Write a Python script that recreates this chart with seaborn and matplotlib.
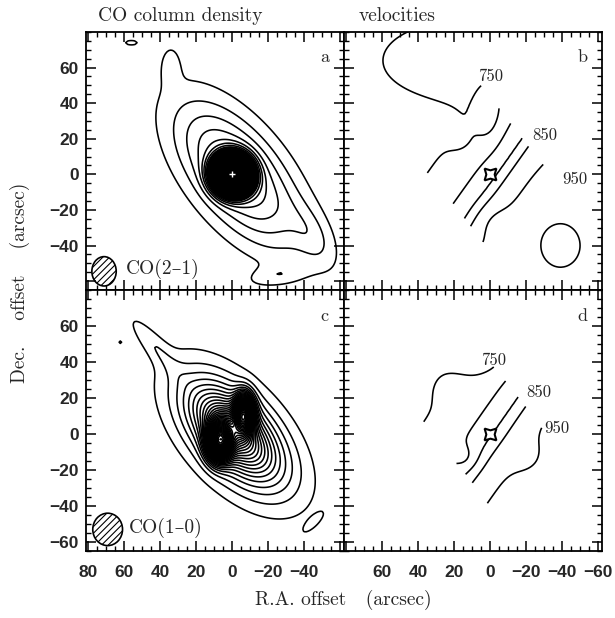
import numpy as np
import matplotlib.pyplot as plt
import seaborn as sns
from matplotlib.patches import Ellipse
from matplotlib.ticker import MultipleLocator
from matplotlib.font_manager import FontProperties

sns.set_theme(style="white")
plt.rcParams['font.family'] = ['cmr10', 'DejaVu Serif']
plt.rcParams['hatch.linewidth'] = 0.8

# map grid, arcsec
ra = np.arange(-66, 84, 1.0)
dec = np.arange(-68, 82, 1.0)
X, Y = np.meshgrid(ra, dec)

# CO(2-1) column density as elliptical gaussians
# (centre arcsec, amplitude in contour steps, sigmas arcsec, PA deg E of N)
co21_x0 = [-3, 0, 34, 56, -45, -24]
co21_y0 = [0, 0, 62, 74, -35, -57]
co21_amp = [6.0, 60.0, 1.2, 1.1, 1.5, 1.3]
co21_smaj = [33, 6.3, 8, 5, 14, 12]
co21_smin = [16, 6.0, 4, 2, 7, 4]
co21_pa = [38, 20, 0, 90, 30, 100]
co21_levels = np.concatenate([np.arange(1, 8), np.arange(8, 66, 0.5)])

# CO(1-0) column density
co10_x0 = [-1.5, -1, 7, -6.5, 44, 62, -45]
co10_y0 = [0, 1, -4, 11, 50, 51, -49]
co10_amp = [8.0, 8.0, 25.0, 22.0, 1.5, 1.05, 1.2]
co10_smaj = [28, 16, 7, 7, 16, 1.5, 6]
co10_smin = [15, 8, 4.5, 3.5, 4, 1.5, 2]
co10_pa = [42, 42, 0, 0, 40, 0, 135]
co10_levels = np.arange(1, 51)

# velocity fields (km/s): vsys + dv*tanh along gradient PA, plus local bumps
vel_levels = [750, 800, 850, 900, 950]

velb_base = dict(vsys=850, dv=110, s0=3, slo=21, shi=11, pa=235)
velb_bx = [1, 15, 14, -39, 1, -44]
velb_by = [36, 64, 18, -40, -25, 0]
velb_bamp = [-45, 35, -12, -25, 14, -12]
velb_bsmaj = [12, 28, 6, 9, 7, 8]
velb_bsmin = [5, 14, 6, 8, 7, 8]
velb_bpa = [0, 90, 0, 0, 0, 0]
velb_mask = dict(pa=38, half=27, amin=-75, amax=110)
velb_text = ["750", "850", "950"]
velb_tx = [0, -30, -47]
velb_ty = [55, 22, -3]

veld_base = dict(vsys=850, dv=110, s0=1, slo=23, shi=13, pa=235)
veld_bx = [6, 20, 14, -20]
veld_by = [42, 25, -13, -12]
veld_bamp = [-40, 15, -35, -10]
veld_bsmaj = [10, 7, 5, 8]
veld_bsmin = [6, 7, 5, 8]
veld_bpa = [90, 0, 0, 0]
veld_mask = dict(pa=38, half=25, amin=-60, amax=55)
veld_text = ["750", "850", "950"]
veld_tx = [-2, -27, -37]
veld_ty = [41, 23, 3]


def gauss2d(x0, y0, amp, smaj, smin, pa):
    t = np.deg2rad(pa)
    dx, dy = X - x0, Y - y0
    a = dx * np.sin(t) + dy * np.cos(t)
    b = dx * np.cos(t) - dy * np.sin(t)
    return amp * np.exp(-0.5 * ((a / smaj) ** 2 + (b / smin) ** 2))


def column(x0, y0, amp, smaj, smin, pa):
    z = np.zeros_like(X)
    for p in zip(x0, y0, amp, smaj, smin, pa):
        z += gauss2d(*p)
    return z


def velocity(base, bx, by, bamp, bsmaj, bsmin, bpa, mask):
    t = np.deg2rad(base['pa'])
    s = X * np.sin(t) + Y * np.cos(t) - base['s0']
    v = base['vsys'] + base['dv'] * np.tanh(s / np.where(s > 0, base['shi'], base['slo']))
    v = v + column(bx, by, bamp, bsmaj, bsmin, bpa)
    m = np.deg2rad(mask['pa'])
    a = X * np.sin(m) + Y * np.cos(m)
    b = X * np.cos(m) - Y * np.sin(m)
    out = (np.abs(b) > mask['half']) | (a < mask['amin']) | (a > mask['amax'])
    return np.ma.masked_where(out, v)


fig = plt.figure(figsize=(6.15, 6.18), dpi=100)
W, H = 615, 618
def px_axes(x0, y0, x1, y1):
    return fig.add_axes([x0 / W, 1 - y1 / H, (x1 - x0) / W, (y1 - y0) / H])

ax_a = px_axes(86, 32, 344, 290)
ax_b = px_axes(344, 32, 602, 290)
ax_c = px_axes(86, 290, 344, 551)
ax_d = px_axes(344, 290, 602, 551)

lw = 1.15
ax_a.contour(X, Y, column(co21_x0, co21_y0, co21_amp, co21_smaj, co21_smin, co21_pa),
             levels=co21_levels, colors='black', linewidths=lw, linestyles='solid')
ax_c.contour(X, Y, column(co10_x0, co10_y0, co10_amp, co10_smaj, co10_smin, co10_pa),
             levels=co10_levels, colors='black', linewidths=lw, linestyles='solid')
ax_b.contour(X, Y, velocity(velb_base, velb_bx, velb_by, velb_bamp, velb_bsmaj, velb_bsmin,
                            velb_bpa, velb_mask),
             levels=vel_levels, colors='black', linewidths=lw, linestyles='solid')
ax_d.contour(X, Y, velocity(veld_base, veld_bx, veld_by, veld_bamp, veld_bsmaj, veld_bsmin,
                            veld_bpa, veld_mask),
             levels=vel_levels, colors='black', linewidths=lw, linestyles='solid')

ax_a.plot(0, 0, marker='+', color='white', ms=4, mew=1)
for ax in (ax_b, ax_d):
    ax.plot(0, 0, marker=(4, 1, 45), ms=12, mfc='white', mec='black', mew=1.5)

for ax, tx, ty, txt in ((ax_b, velb_tx, velb_ty, velb_text), (ax_d, veld_tx, veld_ty, veld_text)):
    for x, y, t in zip(tx, ty, txt):
        ax.text(x, y, t, fontsize=12, ha='center', va='center')

# beams
ax_a.add_patch(Ellipse((71, -54.5), 13.5, 16.5, fill=False, hatch='/////', lw=1.2, ec='black'))
ax_a.text(59, -53, "CO(2–1)", fontsize=14, ha='left', va='center')
ax_c.add_patch(Ellipse((69, -53), 16.5, 18, fill=False, hatch='/////', lw=1.2, ec='black'))
ax_c.text(57, -52, "CO(1–0)", fontsize=14, ha='left', va='center')

for ax, letter in zip((ax_a, ax_b, ax_c, ax_d), "abcd"):
    ax.text(0.925, 0.90, letter, transform=ax.transAxes, fontsize=13, ha='center', va='center')

xt = [80, 60, 40, 20, 0, -20, -40, -60]
yt = [60, 40, 20, 0, -20, -40, -60]
tickfont = FontProperties(family='Liberation Sans', weight='bold', size=12.5)

def lab(v):
    return str(v).replace('-', '\u2212')

for ax in (ax_a, ax_b, ax_c, ax_d):
    ax.set_xlim(81, -62)
    ax.set_ylim(-65, 80)
    ax.set_xticks(xt)
    ax.set_yticks(yt)
    ax.xaxis.set_minor_locator(MultipleLocator(5))
    ax.yaxis.set_minor_locator(MultipleLocator(5))
    ax.tick_params(which='both', direction='in', top=True, right=True,
                   bottom=True, left=True, color='black')
    ax.tick_params(which='major', length=7, width=1.1)
    ax.tick_params(which='minor', length=3.5, width=1.0)
    ax.tick_params(axis='x', which='major', pad=10)
    ax.tick_params(axis='y', which='major', pad=5)
    for sp in ax.spines.values():
        sp.set_color('black')
        sp.set_linewidth(1.3)
    ax.set_xticklabels([])
    ax.set_yticklabels([])

ax_a.set_yticklabels([lab(v) if v != -60 else '' for v in yt], fontproperties=tickfont)
ax_c.set_yticklabels([lab(v) for v in yt], fontproperties=tickfont)
ax_c.set_xticklabels([lab(v) if v != -60 else '' for v in xt], fontproperties=tickfont)
ax_d.set_xticklabels([lab(v) if v != 80 else '' for v in xt], fontproperties=tickfont)

fig.text(98 / W, 1 - 16 / H, "CO column density", fontsize=14, ha='left', va='center')
fig.text(359 / W, 1 - 16 / H, "velocities", fontsize=14, ha='left', va='center')
fig.text(20 / W, 1 - 283 / H, "Dec.    offset    (arcsec)", fontsize=14,
         rotation=90, ha='center', va='center')
fig.text(343 / W, 1 - 600 / H, "R.A. offset   (arcsec)", fontsize=14, ha='center', va='center')

fig.savefig("out.png", dpi=100)
